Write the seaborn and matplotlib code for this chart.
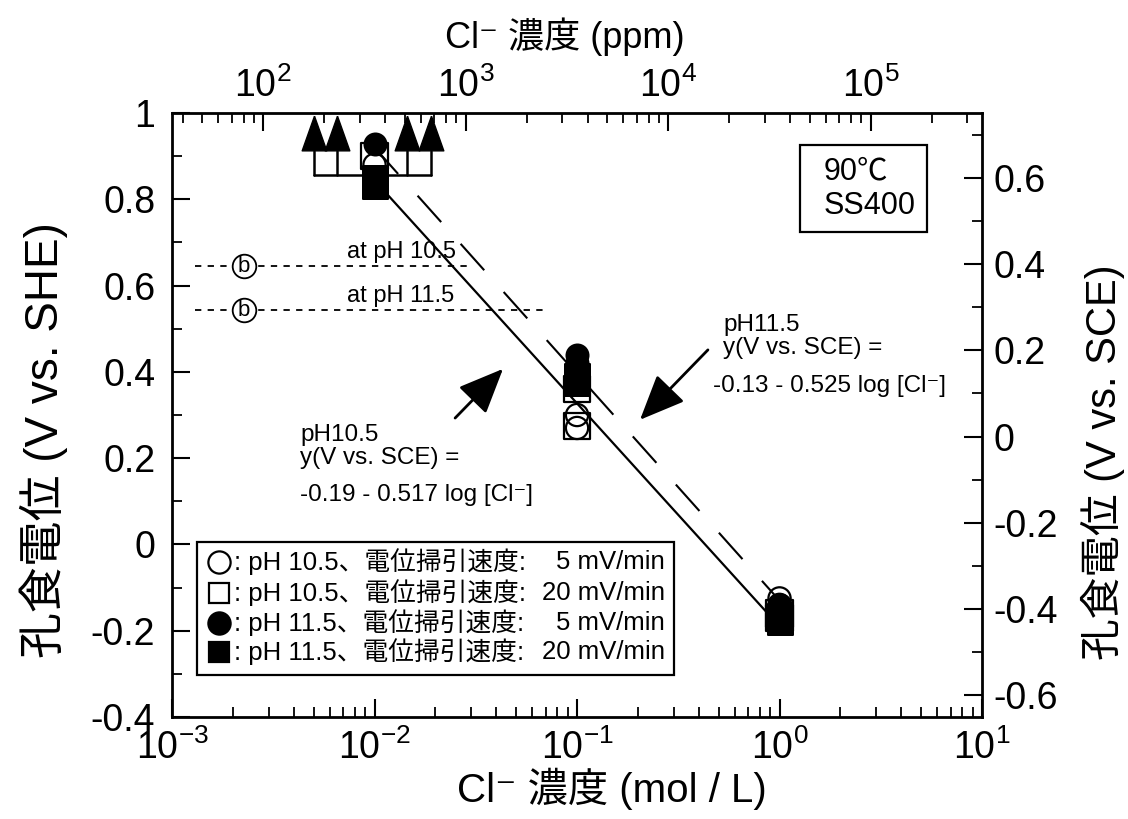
import numpy as np
import pandas as pd
import matplotlib
matplotlib.use("Agg")
import matplotlib.pyplot as plt
from matplotlib.ticker import MultipleLocator, FuncFormatter, LogLocator, NullFormatter, FixedLocator
from matplotlib.markers import MarkerStyle
from matplotlib.patches import Rectangle
import seaborn as sns

# ---------------- data ----------------
# pH 10.5, sweep 5 mV/min (open circles)
oc_x = [1e-2, 1e-1, 1e-1, 1.0, 1.0]
oc_y = [0.88, 0.30, 0.27, -0.125, -0.14]
# pH 10.5, sweep 20 mV/min (open squares)
os_x = [1e-2, 1e-1, 1e-1, 1.0, 1.0]
os_y = [0.90, 0.36, 0.275, -0.16, -0.17]
# pH 11.5, sweep 5 mV/min (filled circles)
fc_x = [1e-2, 1e-1, 1e-1, 1.0]
fc_y = [0.928, 0.44, 0.42, -0.14]
# pH 11.5, sweep 20 mV/min (filled squares)
fs_x = [1e-2, 1e-2, 1e-1, 1e-1, 1.0, 1.0]
fs_y = [0.85, 0.83, 0.39, 0.375, -0.165, -0.18]
# no pitting up to (triangles)
tri_x = [5.0e-3, 6.5e-3, 1.45e-2, 1.9e-2]
tri_y = [0.953, 0.953, 0.953, 0.953]
bracket_y = 0.856
stem_top = 0.912

# regression lines (printed equations)
fit_a = {"pH10.5": -0.19, "pH11.5": -0.13}
fit_b = {"pH10.5": -0.517, "pH11.5": -0.525}
fit_x = [1e-2, 1.0]

# dotted reference levels (b)
ref_y = [0.645, 0.543]
ref_x_start = 1.3e-3
ref_x_end = [2.85e-2, 6.9e-2]
ref_b_x = 2.26e-3
ref_labels = ["at pH 10.5", "at pH 11.5"]

ppm_per_mol = 35450.0
sce_offset = 0.25
ppm_ticks = [1e2, 1e3, 1e4, 1e5]

legend_labels = [": pH 10.5、電位掃引速度:", ": pH 10.5、電位掃引速度:",
                 ": pH 11.5、電位掃引速度:", ": pH 11.5、電位掃引速度:"]
legend_rates = ["5 mV/min", "20 mV/min", "5 mV/min", "20 mV/min"]

# ---------------- style ----------------
sns.set_style("ticks")
plt.rcParams["font.family"] = ["Liberation Sans", "Noto Sans CJK JP", "DejaVu Sans"]
plt.rcParams["mathtext.fontset"] = "custom"
plt.rcParams["mathtext.rm"] = "Liberation Sans"
plt.rcParams["mathtext.it"] = "Liberation Sans:italic"
plt.rcParams["mathtext.bf"] = "Liberation Sans:bold"
plt.rcParams["axes.unicode_minus"] = False
for key in ["text.color", "axes.edgecolor", "axes.labelcolor", "xtick.color", "ytick.color"]:
    plt.rcParams[key] = "black"

fig = plt.figure(figsize=(11.28, 8.19), dpi=100)
ax = fig.add_axes([0.1525, 0.1245, 0.7181, 0.7375])

def afx(px):
    return (px - 172) / 810.0

def afy(py):
    return (717 - py) / 604.0

# fit lines
xs = np.array(fit_x)
ln10 = pd.DataFrame({"x": xs, "y": fit_a["pH10.5"] + fit_b["pH10.5"] * np.log10(xs)})
ln11 = pd.DataFrame({"x": xs, "y": fit_a["pH11.5"] + fit_b["pH11.5"] * np.log10(xs)})
sns.lineplot(data=ln10, x="x", y="y", color="black", lw=1.6, ax=ax, zorder=2)
sns.lineplot(data=ln11, x="x", y="y", color="black", lw=1.5, ax=ax, zorder=2)
ax.lines[-1].set_dashes((17, 14))

# dotted reference lines with circled b
for yv, xe in zip(ref_y, ref_x_end):
    ax.plot([ref_x_start, xe], [yv, yv], color="black", lw=1.3, dashes=(3.5, 3.5), zorder=1)
    ax.plot([ref_b_x], [yv], marker="o", markersize=17, mfc="white", mec="black",
            mew=1.3, linestyle="none", zorder=4)
    ax.text(ref_b_x, yv, "b", ha="center", va="center", fontsize=16, zorder=5)

# bracket + stems for triangles
ax.plot([tri_x[0], tri_x[-1]], [bracket_y, bracket_y], color="black", lw=1.8, zorder=2)
for xv in tri_x:
    ax.plot([xv, xv], [bracket_y, stem_top], color="black", lw=1.8, zorder=2)

tri_marker = [(0, 1), (-0.71, -1), (0.71, -1), (0, 1)]
ax.plot(tri_x, tri_y, linestyle="none", marker=tri_marker, markersize=25,
        color="black", zorder=3, clip_on=False)

# data points
open_circle = MarkerStyle("o", fillstyle="none")
open_square = MarkerStyle("s", fillstyle="none")
sns.scatterplot(x=oc_x, y=oc_y, marker=open_circle, s=16**2, color="black",
                linewidth=1.6, ax=ax, zorder=3)
sns.scatterplot(x=os_x, y=os_y, marker=open_square, s=19**2, color="black",
                linewidth=1.6, ax=ax, zorder=3)
sns.scatterplot(x=fc_x, y=fc_y, marker="o", s=16**2, color="black",
                edgecolor="black", ax=ax, zorder=4)
sns.scatterplot(x=fs_x, y=fs_y, marker="s", s=18**2, color="black",
                edgecolor="black", ax=ax, zorder=4)

# axes
ax.set_xscale("log")
ax.set_xlim(1e-3, 1e1)
ax.set_ylim(-0.4, 1.0)
ax.yaxis.set_major_locator(MultipleLocator(0.2))
ax.yaxis.set_minor_locator(MultipleLocator(0.1))
ax.yaxis.set_major_formatter(FuncFormatter(lambda v, p: f"{round(v, 2) + 0.0:g}"))
ax.xaxis.set_major_locator(LogLocator(base=10, numticks=10))
ax.xaxis.set_minor_locator(LogLocator(base=10, subs=np.arange(2, 10), numticks=20))
ax.xaxis.set_minor_formatter(NullFormatter())

TICK_FS = 27
ax.tick_params(which="major", direction="in", length=13, width=1.5, labelsize=TICK_FS)
ax.tick_params(axis="y", which="major", pad=12)
ax.tick_params(axis="x", which="major", pad=9)
ax.tick_params(which="minor", direction="in", length=7, width=1.3)
ax.tick_params(axis="y", which="both", right=False)
ax.tick_params(axis="x", which="both", top=False)
for sp in ax.spines.values():
    sp.set_linewidth(2.0)
    sp.set_visible(True)

ax.set_xlabel("Cl⁻ 濃度 (mol / L)", fontsize=29)
ax.xaxis.set_label_coords((612 - 172) / 810.0, afy(768), transform=ax.transAxes)
ax.set_ylabel("孔食電位 (V vs. SHE)", fontsize=33)
ax.yaxis.set_label_coords(afx(68), afy(440), transform=ax.transAxes)

# top axis (ppm)
secx = ax.secondary_xaxis("top", functions=(lambda x: x * ppm_per_mol, lambda x: x / ppm_per_mol))
secx.xaxis.set_major_locator(FixedLocator(ppm_ticks))
secx.xaxis.set_minor_locator(LogLocator(base=10, subs=np.arange(2, 10), numticks=20))
secx.xaxis.set_minor_formatter(NullFormatter())
secx.tick_params(which="major", direction="in", length=13, width=1.5, labelsize=TICK_FS, pad=6)
secx.tick_params(which="minor", direction="in", length=7, width=1.3)
secx.set_xlabel("Cl⁻ 濃度 (ppm)", fontsize=26)
secx.xaxis.set_label_coords(afx(565), afy(48), transform=ax.transAxes)

# right axis (SCE)
secy = ax.secondary_yaxis("right", functions=(lambda v: v - sce_offset, lambda v: v + sce_offset))
secy.yaxis.set_major_locator(MultipleLocator(0.2))
secy.yaxis.set_minor_locator(MultipleLocator(0.1))
secy.yaxis.set_major_formatter(FuncFormatter(lambda v, p: f"{round(v, 2) + 0.0:g}"))
secy.tick_params(which="major", direction="in", length=13, width=1.5, labelsize=TICK_FS, pad=8)
secy.tick_params(which="minor", direction="in", length=7, width=1.3)
secy.set_ylabel("孔食電位 (V vs. SCE)", fontsize=30)
secy.yaxis.set_label_coords(afx(1081), afy(462), transform=ax.transAxes)

# reference labels
ax.text(afx(347), afy(252), ref_labels[0], transform=ax.transAxes, fontsize=17, ha="left", va="center")
ax.text(afx(347), afy(296), ref_labels[1], transform=ax.transAxes, fontsize=17, ha="left", va="center")

# equation annotations
TXT = 17.5
ax.text(afx(300), afy(435), "pH10.5", transform=ax.transAxes, fontsize=TXT, va="center")
ax.text(afx(300), afy(458), "y(V vs. SCE) =", transform=ax.transAxes, fontsize=TXT, va="center")
ax.text(afx(300), afy(495), "-0.19 - 0.517 log [Cl⁻]", transform=ax.transAxes, fontsize=TXT, va="center")
ax.text(afx(723), afy(325), "pH11.5", transform=ax.transAxes, fontsize=TXT, va="center")
ax.text(afx(723), afy(348), "y(V vs. SCE) =", transform=ax.transAxes, fontsize=TXT, va="center")
ax.text(afx(713), afy(386), "-0.13 - 0.525 log [Cl⁻]", transform=ax.transAxes, fontsize=TXT, va="center")

arrow_kw = dict(arrowstyle="-|>,head_length=1.4,head_width=0.6", color="black", lw=2,
                mutation_scale=20, shrinkA=0, shrinkB=0)
ax.annotate("", xy=(0.0431, 0.407), xytext=(0.025, 0.293), arrowprops=arrow_kw)
ax.annotate("", xy=(0.2047, 0.289), xytext=(0.443, 0.451), arrowprops=arrow_kw)

# condition box
ax.add_patch(Rectangle((afx(800), afy(232)), 127 / 810.0, 87 / 604.0, transform=ax.transAxes,
                       fc="white", ec="black", lw=1.6, zorder=5))
ax.text(afx(824), afy(171), "90℃", transform=ax.transAxes, fontsize=22, va="center", zorder=6)
ax.text(afx(824), afy(206), "SS400", transform=ax.transAxes, fontsize=22, va="center", zorder=6)

# legend box (manual for aligned columns)
ax.add_patch(Rectangle((afx(197), afy(675)), 477 / 810.0, 133 / 604.0, transform=ax.transAxes,
                       fc="white", ec="black", lw=1.6, zorder=5))
leg_markers = [("o", "none"), ("s", "none"), ("o", "black"), ("s", "black")]
leg_rows_y = [562, 593, 623, 652]
for (mk, fcol), lab, rate, py in zip(leg_markers, legend_labels, legend_rates, leg_rows_y):
    ax.plot([afx(219)], [afy(py)], marker=mk, markersize=16 if mk == "o" else 15,
            mfc=fcol, mec="black", mew=1.6, linestyle="none", transform=ax.transAxes, zorder=6)
    ax.text(afx(234), afy(py), lab, transform=ax.transAxes, fontsize=18.5, va="center", ha="left", zorder=6)
    ax.text(afx(665), afy(py), rate, transform=ax.transAxes, fontsize=18.5, va="center", ha="right", zorder=6)

fig.savefig("out.png", dpi=100)
